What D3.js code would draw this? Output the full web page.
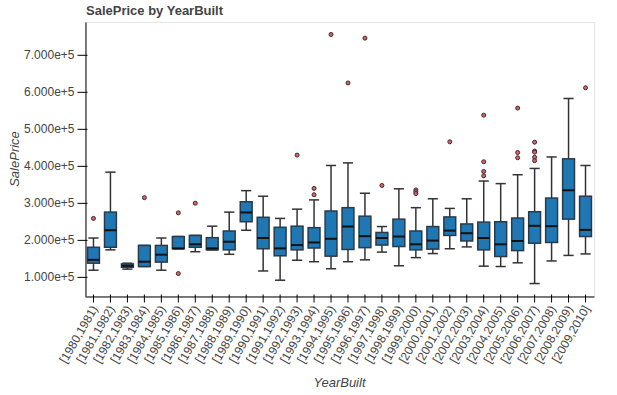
<!DOCTYPE html>
<html>
<head>
<meta charset="utf-8">
<script src="https://cdn.jsdelivr.net/npm/d3@7"></script>
<style>
    body { margin: 0; background: #fff; }
    text { font-family: "Liberation Sans", Helvetica, Arial, sans-serif; fill: #444; }
    .plot-title { font-size: 13px; font-weight: bold; }
    .axis-label { font-size: 13px; font-style: italic; }
    .tick text { font-size: 12px; fill: #444; }
</style>
</head>
<body>
<div id="boxplot"></div>
<script>
// Define variables
// ============================================================================
const categories = [
    "[1980,1981)", "[1981,1982)", "[1982,1983)", "[1983,1984)", "[1984,1985)",
    "[1985,1986)", "[1986,1987)", "[1987,1988)", "[1988,1989)", "[1989,1990)",
    "[1990,1991)", "[1991,1992)", "[1992,1993)", "[1993,1994)", "[1994,1995)",
    "[1995,1996)", "[1996,1997)", "[1997,1998)", "[1998,1999)", "[1999,2000)",
    "[2000,2001)", "[2001,2002)", "[2002,2003)", "[2003,2004)", "[2004,2005)",
    "[2005,2006)", "[2006,2007)", "[2007,2008)", "[2008,2009)", "[2009,2010]"
];

const upper = [205000, 383000, 137000, 185000, 205000, 209000, 212000, 237000, 275000, 333000,
               318000, 258000, 283000, 308000, 401000, 408000, 326000, 236000, 338000, 287000,
               311000, 285000, 311000, 359000, 352000, 376000, 393000, 424000, 582000, 401000];
const q3 = [180000, 275000, 135000, 185000, 185000, 209000, 212000, 206000, 224000, 303000,
            261000, 234000, 237000, 233000, 278000, 287000, 264000, 220000, 256000, 224000,
            236000, 262000, 243000, 248000, 249000, 259000, 276000, 313000, 419000, 318000];
const median = [146000, 226000, 130000, 141000, 160000, 177000, 188000, 177000, 195000, 274000,
                205000, 177000, 186000, 193000, 203000, 236000, 210000, 205000, 209000, 188000,
                198000, 225000, 218000, 205000, 188000, 197000, 238000, 237000, 334000, 227000];
const q1 = [137000, 180000, 126000, 128000, 140000, 176000, 180000, 173000, 173000, 249000,
            176000, 157000, 173000, 178000, 156000, 174000, 179000, 186000, 182000, 173000,
            175000, 212000, 197000, 173000, 155000, 171000, 191000, 193000, 256000, 209000];
const lower = [118000, 173000, 121000, 128000, 118000, 176000, 168000, 173000, 161000, 226000,
               116000, 91000, 145000, 141000, 122000, 141000, 146000, 167000, 130000, 152000,
               163000, 176000, 181000, 129000, 128000, 138000, 82000, 143000, 158000, 162000];
const outliers = [
    [258000], [], [], [314000], [], [273000, 109000], [299000], [], [], [],
    [], [], [429000], [339000, 322000], [755000], [624000], [745000], [347000], [], [335000, 330000, 325000],
    [], [465000], [], [537000, 411000, 385000, 373000], [], [556000, 436000, 422000],
    [464000, 440000, 437000, 423000, 414000], [], [], [611000]
];
const yTickValues = [100000, 200000, 300000, 400000, 500000, 600000, 700000];

const margin = {top: 22, right: 23, bottom: 99, left: 85},
    width = 617 - margin.left - margin.right,
    height = 395 - margin.top - margin.bottom;

// Build data
// ============================================================================
let data = categories.map((c, i) => ({
    cat: c, lo: lower[i], q1: q1[i], med: median[i], q3: q3[i], hi: upper[i], out: outliers[i]
}));

// Plot
// ============================================================================
let svg = d3.select("#boxplot")
    .append("svg")
        .attr("width", 617)
        .attr("height", 395)
    .append("g")
        .attr("transform", "translate(" + margin.left + "," + margin.top + ")");

// Scales (5% padding around data extent)
let allValues = lower.concat(upper, d3.merge(outliers));
let yMin = d3.min(allValues), yMax = d3.max(allValues), pad = (yMax - yMin) * 0.05;

let xScale = d3.scaleBand()
    .domain(categories)
    .range([0, width]);

let yScale = d3.scaleLinear()
    .domain([yMin - pad, yMax + pad])
    .range([height, 0]);

// Plot outline
svg.append("rect")
    .attr("x", 0.5).attr("y", 0.5)
    .attr("width", width).attr("height", height)
    .attr("fill", "none")
    .attr("stroke", "#e5e5e5");

const bw = xScale.bandwidth();
let boxes = svg.selectAll(".box")
    .data(data)
    .enter().append("g")
        .attr("class", "box")
        .attr("transform", d => "translate(" + (xScale(d.cat) + bw / 2) + ",0)");

// Whiskers
boxes.append("line")
    .attr("x1", 0).attr("x2", 0)
    .attr("y1", d => yScale(d.hi)).attr("y2", d => yScale(d.q3))
    .attr("stroke", "#333").attr("stroke-width", 1.5);
boxes.append("line")
    .attr("x1", 0).attr("x2", 0)
    .attr("y1", d => yScale(d.q1)).attr("y2", d => yScale(d.lo))
    .attr("stroke", "#333").attr("stroke-width", 1.5);
boxes.append("line")
    .attr("x1", -bw * 0.3).attr("x2", bw * 0.3)
    .attr("y1", d => yScale(d.hi)).attr("y2", d => yScale(d.hi))
    .attr("stroke", "#333").attr("stroke-width", 1.5);
boxes.append("line")
    .attr("x1", -bw * 0.3).attr("x2", bw * 0.3)
    .attr("y1", d => yScale(d.lo)).attr("y2", d => yScale(d.lo))
    .attr("stroke", "#333").attr("stroke-width", 1.5);

// Boxes
boxes.append("rect")
    .attr("x", -bw * 0.35)
    .attr("width", bw * 0.7)
    .attr("y", d => yScale(d.q3))
    .attr("height", d => Math.max(1, yScale(d.q1) - yScale(d.q3)))
    .attr("fill", "#1f77b4")
    .attr("stroke", "#2b3a48")
    .attr("stroke-width", 1.5);

// Median
boxes.append("line")
    .attr("x1", -bw * 0.35).attr("x2", bw * 0.35)
    .attr("y1", d => yScale(d.med)).attr("y2", d => yScale(d.med))
    .attr("stroke", "#111").attr("stroke-width", 2);

// Outliers
boxes.selectAll(".outlier")
    .data(d => d.out)
    .enter().append("circle")
        .attr("class", "outlier")
        .attr("cx", 0)
        .attr("cy", d => yScale(d))
        .attr("r", 2)
        .attr("fill", "#e0606a")
        .attr("stroke", "#3a2a2a")
        .attr("stroke-width", 1);

// Axes
let yAxis = svg.append("g")
    .attr("transform", "translate(0.5,0)")
    .call(d3.axisLeft(yScale)
        .tickValues(yTickValues)
        .tickFormat(d3.format(".3e"))
        .tickSize(8)
        .tickSizeOuter(0)
        .tickPadding(3));
yAxis.selectAll(".tick line").attr("x2", -8).attr("x1", 2).attr("stroke", "#000");
yAxis.select(".domain").attr("stroke", "#000");

let xAxis = svg.append("g")
    .attr("transform", "translate(0," + (height + 0.5) + ")")
    .call(d3.axisBottom(xScale).tickSize(6).tickSizeOuter(0));
xAxis.selectAll(".tick line").attr("y1", -2).attr("stroke", "#000");
xAxis.select(".domain").attr("stroke", "#000");
xAxis.selectAll(".tick text")
    .attr("text-anchor", "end")
    .attr("dy", "0.35em")
    .attr("x", 0)
    .attr("y", 0)
    .attr("transform", "translate(1,10) rotate(-60)");

// Axis labels
svg.append("text")
    .attr("class", "axis-label")
    .attr("text-anchor", "middle")
    .attr("x", width / 2)
    .attr("y", height + 91)
    .text("YearBuilt");

svg.append("text")
    .attr("class", "axis-label")
    .attr("text-anchor", "middle")
    .attr("transform", "translate(-66," + (height / 2) + ") rotate(-90)")
    .text("SalePrice");

// Add Title
svg.append("text")
    .attr("class", "plot-title")
    .attr("x", 1)
    .attr("y", -7)
    .text("SalePrice by YearBuilt");
</script>
</body>
</html>
